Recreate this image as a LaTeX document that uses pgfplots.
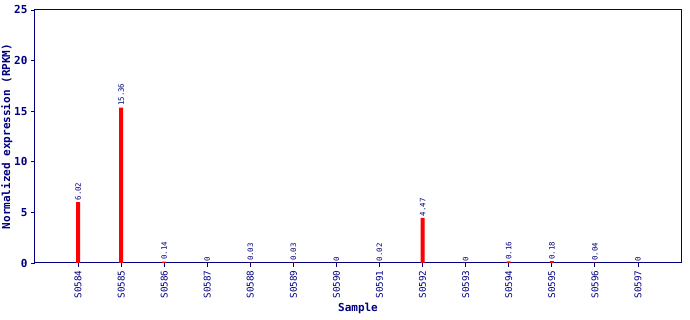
\documentclass[border=0pt]{standalone}
\usepackage{fontspec}
\setmonofont{DejaVu Sans Mono}
\usepackage{pgfplots}
\pgfplotsset{compat=1.18}
\definecolor{navy}{RGB}{0,0,128}
\definecolor{barred}{RGB}{255,0,0}
\begin{document}
\begin{tikzpicture}[x=1pt,y=1pt]
\path[use as bounding box] (-35,-57) rectangle (655,263);
\begin{axis}[
  at={(0,0)}, anchor=south west,
  scale only axis, width=646pt, height=253pt,
  xmin=-1, xmax=14, ymin=0, ymax=25,
  xtick={0,...,13},
  xticklabels={S0584,S0585,S0586,S0587,S0588,S0589,S0590,S0591,S0592,S0593,S0594,S0595,S0596,S0597},
  xticklabel style={rotate=90, anchor=east, font=\ttfamily\fontsize{9.3}{10}\selectfont, text=navy},
  ytick={0,5,10,15,20,25},
  yticklabel style={font=\ttfamily\bfseries\fontsize{11}{12}\selectfont, text=navy},
  /pgf/number format/assume math mode=true,
  tick align=outside, tick pos=left,
  major tick length=4pt,
  tick style={navy, line width=0.8pt},
  axis line style={navy, line width=1pt},
  xlabel={Sample}, ylabel={Normalized expression (RPKM)},
  label style={font=\ttfamily\bfseries\fontsize{11}{12}\selectfont, text=navy},
  xlabel style={yshift=2pt},
  ylabel style={yshift=-5pt},
  ybar, bar width=4pt, bar shift=0pt,
  nodes near coords={\pgfplotspointmeta},
  point meta=explicit symbolic,
  nodes near coords style={rotate=90, anchor=west, font=\ttfamily\fontsize{7.4}{8}\selectfont, text=navy, inner sep=1.5pt},
]
\addplot[fill=barred, draw=none] table[meta=label] {
x y label
0 6.02 6.02
1 15.36 15.36
2 0.14 0.14
3 0 0
4 0.03 0.03
5 0.03 0.03
6 0 0
7 0.02 0.02
8 4.47 4.47
9 0 0
10 0.16 0.16
11 0.18 0.18
12 0.04 0.04
13 0 0
};
\end{axis}
\end{tikzpicture}
\end{document}
